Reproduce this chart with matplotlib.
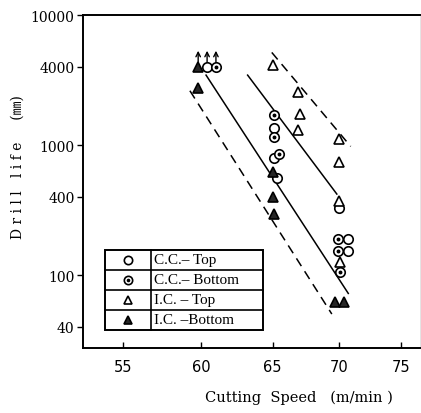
import matplotlib
matplotlib.use("Agg")
import matplotlib.pyplot as plt
from matplotlib.patches import Rectangle
from matplotlib.lines import Line2D

# ---- data ----
cc_top_x = [60.4, 65.1, 65.1, 65.3, 70.0, 70.73, 70.73]
cc_top_y = [3960, 1343, 791, 557, 326, 189, 152]
cc_bot_x = [61.0, 65.1, 65.1, 65.45, 69.95, 69.95, 70.05]
cc_bot_y = [3960, 1702, 1146, 853, 189, 152, 105]
ic_top_x = [65.0, 66.84, 67.0, 66.9, 70.0, 70.0, 70.0, 70.05]
ic_top_y = [4150, 2540, 1730, 1300, 1110, 736, 373, 125]
ic_bot_x = [59.8, 59.8, 65.0, 65.0, 65.1, 69.7, 70.4]
ic_bot_y = [3960, 2730, 624, 396, 294, 61.7, 61.7]
arrow_x = [59.8, 60.4, 61.0]
arrow_y = [3960, 3960, 3960]

solid1_x = [60.33, 70.73]; solid1_y = [3455, 72.2]
solid2_x = [63.2, 69.83]; solid2_y = [3455, 420]
dashl_x = [59.25, 69.44]; dashl_y = [2620, 50.1]
dashr_x = [64.93, 70.92]; dashr_y = [5165, 977]

x_ticks = [55, 60, 65, 70, 75]
y_ticks = [40, 100, 400, 1000, 4000, 10000]
legend_labels = ["C.C.\u2013 Top", "C.C.\u2013 Bottom", "I.C. \u2013 Top", "I.C. \u2013Bottom"]

fig = plt.figure(figsize=(4.21, 4.14), dpi=100)
ax = fig.add_axes([0.197, 0.157, 0.801, 0.804])
ax.set_xscale('log')
ax.set_yscale('log')
ax.set_xlim(52.57, 76.65)
ax.set_ylim(27.45, 10000)

lw = 1.1
ax.plot(solid1_x, solid1_y, color='black', lw=lw)
ax.plot(solid2_x, solid2_y, color='black', lw=lw)
ax.plot(dashl_x, dashl_y, color='black', lw=lw, dashes=(6, 4))
ax.plot(dashr_x, dashr_y, color='black', lw=lw, dashes=(6, 4))

ms = 6.8
mew = 1.2
ax.plot(cc_top_x, cc_top_y, 'o', ms=ms, mfc='white', mec='black', mew=mew, ls='none')
ax.plot(cc_bot_x, cc_bot_y, 'o', ms=ms, mfc='white', mec='black', mew=mew, ls='none')
ax.plot(cc_bot_x, cc_bot_y, 'o', ms=1.8, mfc='black', mec='black', ls='none')
ax.plot(ic_top_x, ic_top_y, '^', ms=ms + 0.5, mfc='white', mec='black', mew=mew, ls='none')
ax.plot(ic_bot_x, ic_bot_y, '^', ms=ms + 0.2, mfc='0.15', mec='black', mew=mew, ls='none')

for xa, ya in zip(arrow_x, arrow_y):
    ax.annotate('', xy=(xa, ya), xytext=(0, 12), textcoords='offset points',
                arrowprops=dict(arrowstyle='<-', color='black', lw=1.0,
                                shrinkA=0, shrinkB=4, mutation_scale=8))

ax.set_xticks(x_ticks)
ax.set_xticklabels([str(t) for t in x_ticks], fontsize=10.5, family='DejaVu Sans')
ax.set_yticks(y_ticks)
ax.set_yticklabels([str(t) for t in y_ticks], fontsize=10, family='DejaVu Serif')
ax.minorticks_off()
ax.tick_params(axis='x', direction='in', length=4, width=1, pad=8)
ax.tick_params(axis='y', direction='out', length=4, width=1, pad=2)

for s in ['left', 'bottom', 'top']:
    ax.spines[s].set_linewidth(1.4)
ax.spines['right'].set_linewidth(0.5)
ax.spines['right'].set_color('0.85')

fig.text(0.71, 0.038, "Cutting  Speed   (m\u2215min )", ha='center', va='center',
         fontsize=10.5, family='DejaVu Serif')
fig.text(0.043, 0.597, "D r i l l   l i f e     (\u339c)", ha='center', va='center',
         rotation=90, fontsize=10, family=['DejaVu Serif', 'Noto Sans CJK JP'])

# legend table (axes coordinates)
x0, x1 = (105 - 83) / 337, (263.3 - 83) / 337
xd = (150.7 - 83) / 337
ytop = (349 - 250.7) / 333
ybot = (349 - 331) / 333
ax.add_patch(Rectangle((x0, ybot), x1 - x0, ytop - ybot, transform=ax.transAxes,
                       fill=True, facecolor='white', edgecolor='black', lw=1.4, zorder=5))
ax.add_line(Line2D([xd, xd], [ybot, ytop], transform=ax.transAxes, color='black', lw=1.2, zorder=6))
nrow = 4
rh = (ytop - ybot) / nrow
for i in range(1, nrow):
    yy = ytop - i * rh
    ax.add_line(Line2D([x0, x1], [yy, yy], transform=ax.transAxes, color='black', lw=1.2, zorder=6))
xs = (x0 + xd) / 2
styles = [dict(marker='o', mfc='white'), dict(marker='o', mfc='white'),
          dict(marker='^', mfc='white'), dict(marker='^', mfc='0.15')]
for i, (lab, st) in enumerate(zip(legend_labels, styles)):
    yc = ytop - (i + 0.5) * rh
    ax.plot([xs], [yc], transform=ax.transAxes, ls='none', ms=6, mec='black', mew=1.2,
            zorder=7, clip_on=False, **st)
    if i == 1:
        ax.plot([xs], [yc], transform=ax.transAxes, ls='none', marker='o', ms=1.6,
                mfc='black', mec='black', zorder=8, clip_on=False)
    ax.text(xd + 0.01, yc, lab, transform=ax.transAxes, ha='left', va='center',
            fontsize=11, family='Liberation Serif', zorder=8)

fig.savefig('out.png', dpi=100)
